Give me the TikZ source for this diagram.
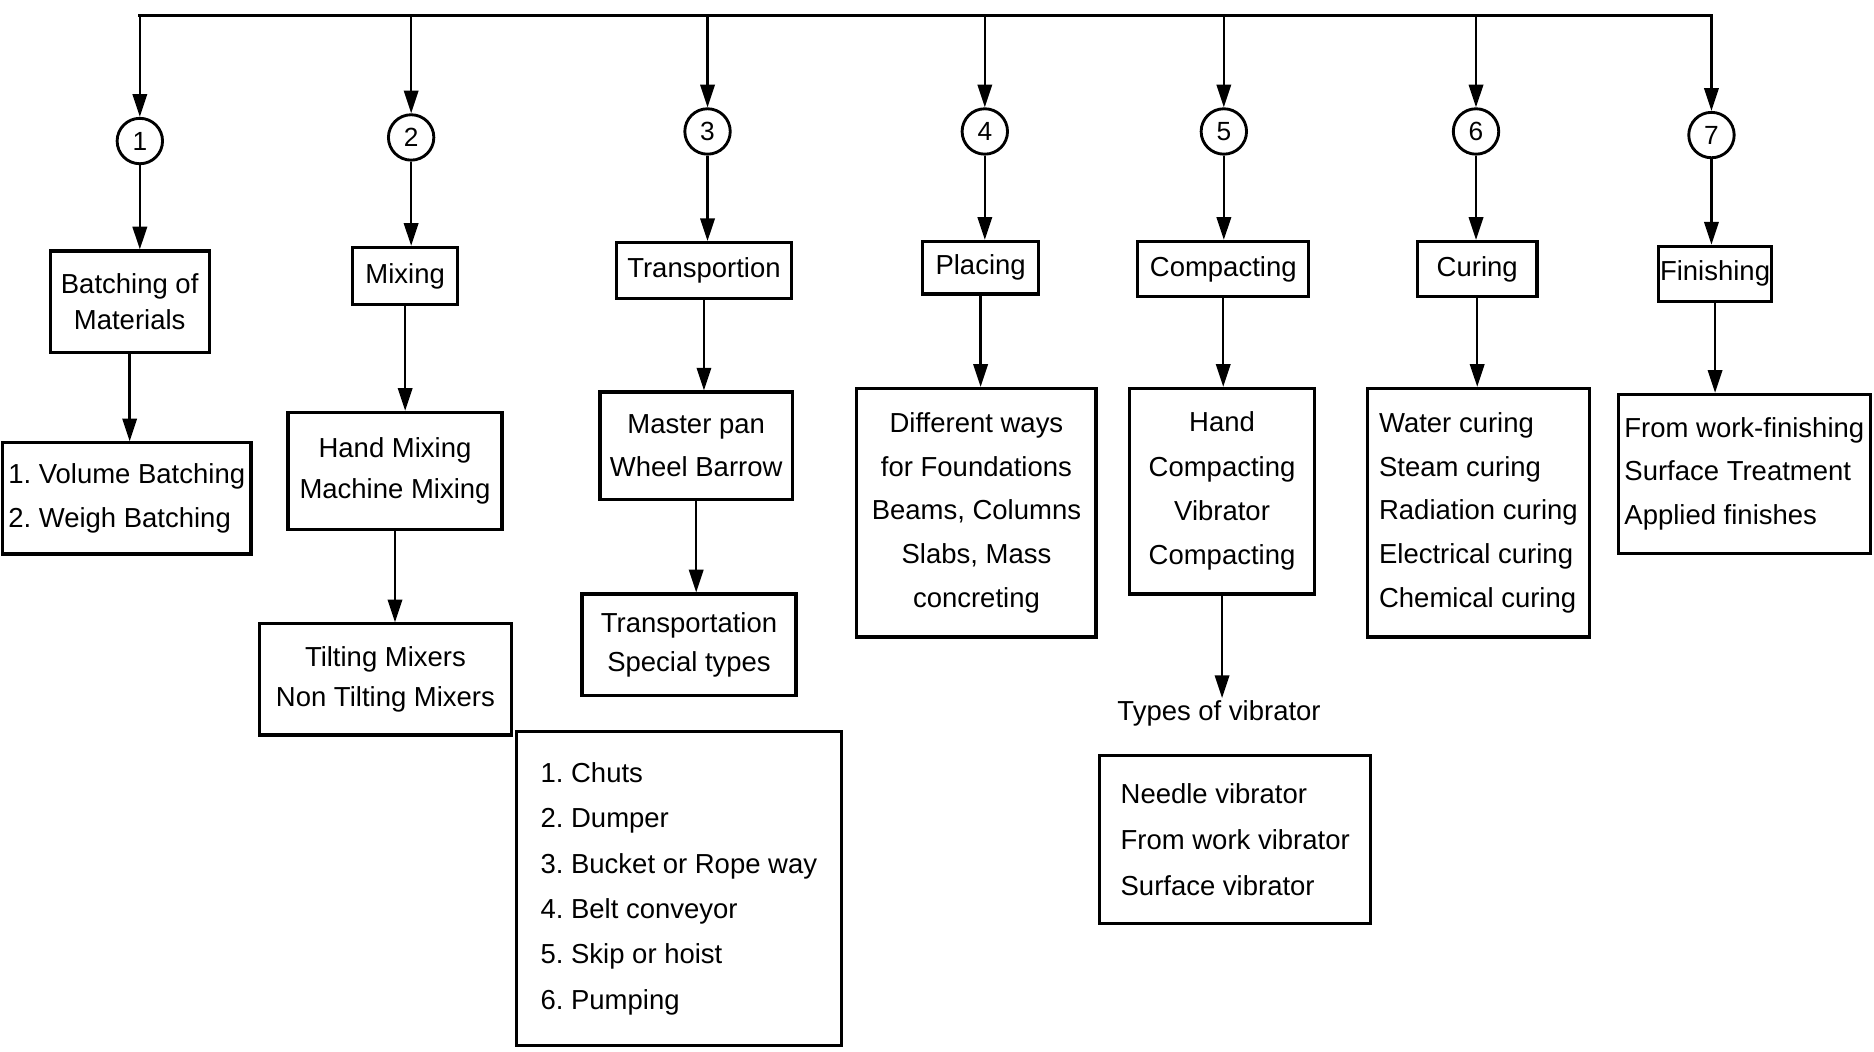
\documentclass[tikz,border=0pt]{standalone}
\usepackage{fontspec}
\setmainfont{Liberation Sans}
\usetikzlibrary{arrows.meta}
\frenchspacing
\begin{document}
\begin{tikzpicture}[x=1pt,y=-1pt,
  box/.style={draw, line width=2.6pt, inner sep=1pt, align=center, font=\fontsize{23}{37}\selectfont},
  lbox/.style={box, align=left},
  plain/.style={inner sep=2pt, font=\fontsize{23}{37}\selectfont},
  num/.style={draw, circle, line width=2.4pt, minimum size=38pt, inner sep=0pt, font=\fontsize{22}{22}\selectfont},
  arr/.style={line width=2pt, -{Triangle[length=19pt,width=12pt]}},
  bus/.style={line width=3pt, line cap=rect}]
\useasboundingbox (0,0) rectangle (1568,880);
\fill[white] (0,0) rectangle (1568,880);

% circles
\node[num] (c1) at (117,118) {1};
\node[num] (c2) at (344,115) {2};
\node[num] (c3) at (592,110) {3};
\node[num] (c4) at (824,110) {4};
\node[num] (c5) at (1024,110) {5};
\node[num] (c6) at (1235,110) {6};
\node[num] (c7) at (1432,113) {7};

% bus coordinates
\coordinate (t1) at (117,13);
\coordinate (t2) at (344,13);
\coordinate (t3) at (592,13);
\coordinate (t4) at (824,13);
\coordinate (t5) at (1024,13);
\coordinate (t6) at (1235,13);
\coordinate (t7) at (1432,13);

% level 1 boxes
\node[box, minimum width=133pt, minimum height=85pt, font=\fontsize{23}{30}\selectfont] (b1) at (108.5,252.5) {Batching of\\Materials};
\node[box, minimum width=88pt, minimum height=48pt] (b2) at (339,231) {Mixing};
\node[box, minimum width=146pt, minimum height=47pt] (b3) at (589,226.5) {Transportion};
\node[box, minimum width=97pt, minimum height=44pt] (b4) at (820.5,224) {Placing};
\node[box, minimum width=143pt, minimum height=46pt] (b5) at (1023.5,225) {Compacting};
\node[box, minimum width=100pt, minimum height=46pt] (b6) at (1236,225) {Curing};
\node[box, minimum width=94pt, minimum height=46pt] (b7) at (1435,229) {Finishing};

% level 2 boxes
\node[lbox, minimum width=208pt, minimum height=93pt] (d1) at (106,417) {1. Volume Batching\\2. Weigh Batching};
\node[box, minimum width=179pt, minimum height=98pt, font=\fontsize{23}{35}\selectfont] (d2) at (330.5,394) {Hand Mixing\\Machine Mixing};
\node[box, minimum width=161pt, minimum height=90pt, font=\fontsize{23}{36}\selectfont] (d3) at (582.5,373) {Master pan\\Wheel Barrow};
\node[box, minimum width=211pt, minimum height=93pt, font=\fontsize{23}{33}\selectfont] (e2) at (322.5,568.5) {Tilting Mixers\\Non Tilting Mixers};
\node[box, minimum width=179pt, minimum height=85pt, font=\fontsize{23}{33}\selectfont] (e3) at (576.5,539.5) {Transportation\\Special types};
\node[lbox, minimum width=272pt, minimum height=263pt, font=\fontsize{23}{38}\selectfont] (f3) at (568,743.5) {1. Chuts\\2. Dumper\\3. Bucket or Rope way\\4. Belt conveyor\\5. Skip or hoist\\6. Pumping};
\node[box, minimum width=200pt, minimum height=208pt, font=\fontsize{23}{36.5}\selectfont] (d4) at (817,429) {Different ways\\for Foundations\\Beams, Columns\\Slabs, Mass\\concreting};
\node[box, minimum width=155pt, minimum height=172pt] (d5) at (1022.5,411) {Hand\\Compacting\\Vibrator\\Compacting};
\node[plain] (v5) at (1020,597) {Types of vibrator};
\node[lbox, minimum width=227pt, minimum height=141pt, font=\fontsize{23}{38.5}\selectfont] (f5) at (1033.5,702.5) {Needle vibrator\\From work vibrator\\Surface vibrator};
\node[lbox, minimum width=186pt, minimum height=208pt, font=\fontsize{23}{36.5}\selectfont] (d6) at (1237,429) {Water curing\\Steam curing\\Radiation curing\\Electrical curing\\Chemical curing};
\node[lbox, minimum width=211pt, minimum height=133pt, font=\fontsize{23}{36.5}\selectfont] (d7) at (1459.5,396.5) {From work-finishing\\Surface Treatment\\Applied finishes};

% bus
\draw[bus] (t1) -- (t7);
\foreach \i in {1,...,7} {
  \draw[arr] (t\i) -- (c\i.north);
  \draw[arr] (c\i.south) -- (c\i.south |- b\i.north);
}

% level connectors
\draw[arr] (b1.south) -- (b1.south |- d1.north);
\draw[arr] (b2.south) -- (b2.south |- d2.north);
\draw[arr] (d2.south) -- (d2.south |- e2.north);
\draw[arr] (b3.south) -- (b3.south |- d3.north);
\draw[arr] (d3.south) -- (d3.south |- e3.north);
\draw[arr] (b4.south) -- (b4.south |- d4.north);
\draw[arr] (b5.south) -- (b5.south |- d5.north);
\draw[arr] (d5.south) -- (d5.south |- v5.north);
\draw[arr] (b6.south) -- (b6.south |- d6.north);
\draw[arr] (b7.south) -- (b7.south |- d7.north);
\end{tikzpicture}
\end{document}
